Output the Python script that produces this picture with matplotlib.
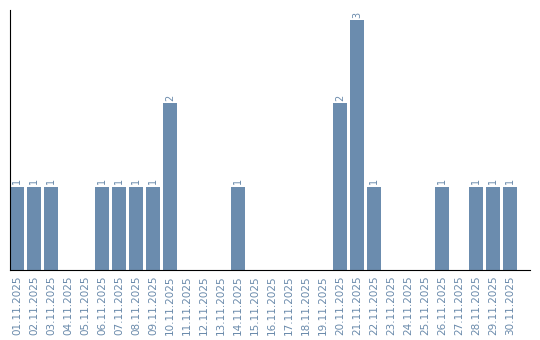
import matplotlib
matplotlib.use('Agg')
import matplotlib.pyplot as plt

# 每日數量(2025 年 11 月)
dates = [f'{d:02d}.11.2025' for d in range(1, 31)]
counts = [1, 1, 1, 0, 0, 1, 1, 1, 1, 2,
          0, 0, 0, 1, 0, 0, 0, 0, 0, 2,
          3, 1, 0, 0, 0, 1, 0, 1, 1, 1]

BAR = '#6b8cae'
TXT = '#6a8aab'

fig = plt.figure(figsize=(5.4, 3.4), dpi=100)
ax = fig.add_axes([10 / 540, 70 / 340, 520 / 540, 260 / 340])
x = list(range(len(dates)))
ax.bar(x, counts, width=14 / 17, color=BAR)
for i, c in zip(x, counts):
    if c > 0:
        ax.text(i, c + 0.03, str(c), rotation=90, ha='center', va='bottom',
                fontsize=7, color=TXT)
ax.set_xlim(-0.41, 30.18)
ax.set_ylim(0, 3.12)
ax.set_xticks(x)
ax.set_xticklabels(dates, rotation=90, fontsize=7.5, color=TXT)
ax.tick_params(axis='x', length=0, pad=4)
ax.set_yticks([])
for s in ('top', 'right'):
    ax.spines[s].set_visible(False)
ax.spines['left'].set_color('black')
ax.spines['bottom'].set_color('black')
fig.savefig('out.png', dpi=100)
